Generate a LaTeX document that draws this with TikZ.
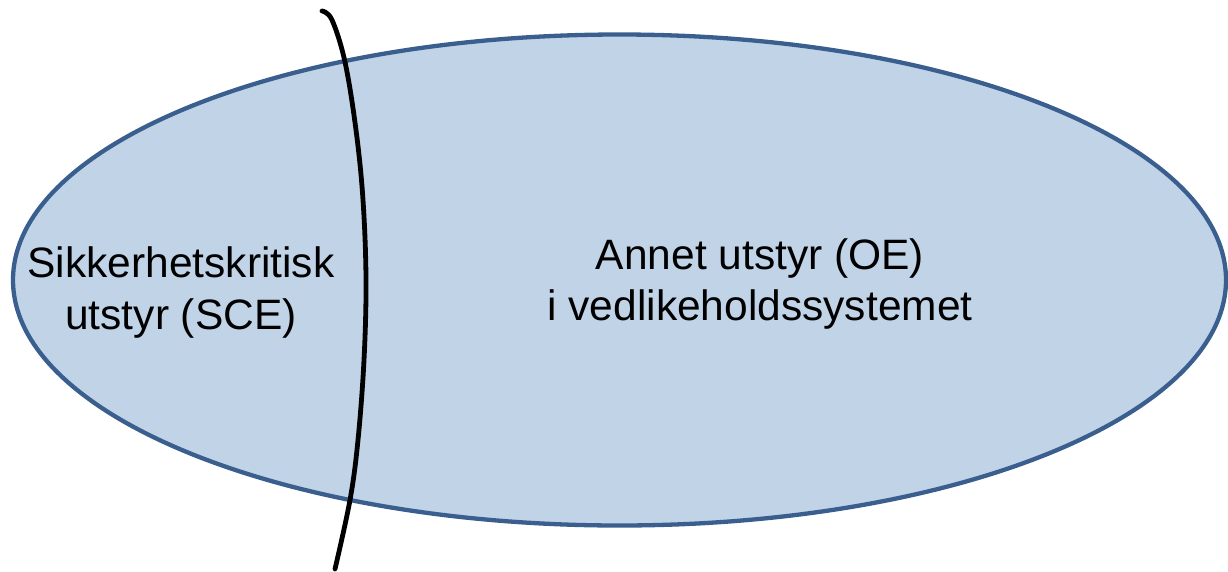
\documentclass[tikz,border=0pt]{standalone}
\usepackage{fontspec}
\setmainfont{Liberation Sans}
\definecolor{ellfill}{HTML}{C0D3E7}
\definecolor{elldraw}{HTML}{3A5F8E}
\begin{document}
\begin{tikzpicture}[x=1pt,y=-1pt,
  setellipse/.style={fill=ellfill,draw=elldraw,line width=4.3pt},
  bracketline/.style={draw=black,line width=4.8pt,line cap=round},
  label/.style={align=center,inner sep=0pt,anchor=north,font=\fontsize{42.5}{51.5}\selectfont}]
\useasboundingbox (0,0) rectangle (1228,571);
\draw[setellipse] (619.5,280) ellipse [x radius=606.5, y radius=245.5];
\node[label] (oe) at (760,238) {Annet utstyr (OE)\\i vedlikeholdssystemet};
\node[label] (sce) at (181,246.5) {Sikkerhetskritisk\\utstyr (SCE)};
\draw[bracketline] plot[smooth,tension=0.6] coordinates {(322,11) (332,20) (345,62) (356,130) (363,200) (366,280) (364,360) (358,440) (350,500) (335,569)};
\end{tikzpicture}
\end{document}
